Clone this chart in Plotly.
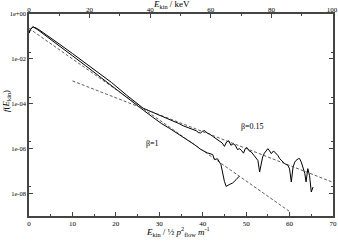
import numpy as np
import plotly.graph_objects as go

# ---- data (y values given as log10 f) ----
beta1_x = [0, 0.3, 0.7, 1.0, 2, 4, 7, 10, 13, 16, 19, 22.5, 24.5, 26.3, 28.5, 30.5,
           32.4, 34, 35.8, 38.1, 39.6, 41.1, 42.3, 42.7, 43.4, 44.2, 45.0, 45.4,
           46.1, 46.9, 47.7, 48.4]
beta1_logf = [-0.85, -0.70, -0.60, -0.58, -0.70, -0.98, -1.42, -1.86, -2.30, -2.75,
              -3.20, -3.75, -4.02, -4.28, -4.60, -4.88, -5.10, -5.30, -5.52, -5.82,
              -6.04, -6.19, -6.26, -6.49, -6.45, -6.71, -7.46, -7.68, -7.60, -7.53,
              -7.38, -7.23]

beta015_x = [0, 0.3, 0.7, 1.0, 2, 4, 7, 10, 13, 16, 19, 22.5, 24.5, 26.3, 27.5, 28.5,
             30, 31, 32.4, 33.5, 34.5, 35.5, 36.6, 37.5, 38.5, 39, 39.5, 40, 40.5, 41,
             41.6, 42.3, 43, 43.5, 44, 44.5, 45, 45.5, 46, 46.5, 47, 47.5, 48, 48.5,
             49, 49.4, 49.8, 50.2, 50.7, 51.2, 51.8, 52.3, 52.7, 53.1, 53.5, 53.8,
             54.2, 54.6, 55, 55.4, 55.8, 56.3, 56.9, 57.3, 57.7, 58.3, 58.9, 59.6,
             60, 60.4, 60.8, 61.2, 61.5, 62, 62.3, 62.7, 63.1, 63.5, 63.8, 64.2,
             64.6, 65, 65.4]
beta015_logf = [-0.85, -0.70, -0.60, -0.58, -0.66, -0.92, -1.34, -1.76, -2.18, -2.60,
                -3.05, -3.62, -3.93, -4.20, -4.30, -4.38, -4.50, -4.60, -4.70, -4.80,
                -4.88, -4.98, -5.07, -5.12, -5.20, -5.28, -5.30, -5.22, -5.20, -5.30,
                -5.35, -5.45, -5.55, -5.60, -5.68, -5.75, -5.90, -5.70, -5.65, -5.85,
                -5.78, -5.85, -6.04, -6.00, -6.10, -6.20, -6.00, -5.95, -6.10, -6.15,
                -6.30, -6.40, -6.52, -7.04, -6.60, -6.37, -6.20, -6.07, -6.00, -6.10,
                -6.22, -6.10, -6.22, -6.30, -6.44, -6.55, -6.67, -6.74, -6.90, -7.48,
                -6.82, -6.60, -6.52, -6.45, -6.44, -6.60, -6.82, -7.10, -7.48, -6.89,
                -7.20, -7.93, -7.71]

fit1_x = [0, 60]
fit1_logf = [-0.64, -8.80]
fit015_x = [10, 70]
fit015_logf = [-2.98, -7.50]

bottom_ticks = [0, 10, 20, 30, 40, 50, 60, 70]
top_ticks = [0, 20, 40, 60, 80, 100]
y_tickvals = [1e0, 1e-2, 1e-4, 1e-6, 1e-8]
y_ticktext = ["1e+00", "1e-02", "1e-04", "1e-06", "1e-08"]
y_minor = [2e-2, 2e-4, 2e-6, 2e-8]

labels = [("β=1", 28.5, -5.75), ("β=0.15", 51.5, -5.0)]

FONT = "Liberation Serif"
AX = "#444444"

fig = go.Figure()
fig.add_trace(go.Scatter(x=beta1_x, y=np.power(10.0, beta1_logf), mode="lines",
                         line=dict(color="black", width=1), showlegend=False))
fig.add_trace(go.Scatter(x=beta015_x, y=np.power(10.0, beta015_logf), mode="lines",
                         line=dict(color="black", width=1), showlegend=False))
fig.add_trace(go.Scatter(x=fit1_x, y=np.power(10.0, fit1_logf), mode="lines",
                         line=dict(color="#333333", width=0.8, dash="3px,2px"), showlegend=False))
fig.add_trace(go.Scatter(x=fit015_x, y=np.power(10.0, fit015_logf), mode="lines",
                         line=dict(color="#333333", width=0.8, dash="3px,2px"), showlegend=False))
# invisible trace for top axis
fig.add_trace(go.Scatter(x=[0, 100], y=[1e-9, 1e-9], xaxis="x2", mode="lines",
                         line=dict(width=0, color="white"), hoverinfo="skip", showlegend=False))

for txt, lx, ly in labels:
    fig.add_annotation(x=lx, y=ly, xref="x", yref="y", text=txt, showarrow=False,
                       font=dict(family=FONT, size=8, color="black"))

# axis titles as annotations (paper coords)
fig.add_annotation(x=0.49, y=-0.078, xref="paper", yref="paper", yanchor="middle",
                   text="<i>E</i><sub>kin</sub> / ½ <i>p</i><sup>2</sup><sub>flow</sub> <i>m</i><sup>-1</sup>",
                   showarrow=False, font=dict(family=FONT, size=9, color="black"))
fig.add_annotation(x=0.47, y=1.045, xref="paper", yref="paper", yanchor="middle",
                   text="<i>E</i><sub>kin</sub> / keV",
                   showarrow=False, font=dict(family=FONT, size=9, color="black"))
fig.add_annotation(x=-0.072, y=0.57, xref="paper", yref="paper", textangle=-90,
                   xanchor="center", yanchor="middle",
                   text="<i>f</i>(<i>E</i><sub>kin</sub>)",
                   showarrow=False, font=dict(family=FONT, size=9, color="black"))

fig.update_layout(
    template="none",
    width=338, height=242,
    margin=dict(l=29, r=5, t=14, b=26, autoexpand=False),
    paper_bgcolor="white", plot_bgcolor="white",
    font=dict(family=FONT, size=7, color="black"),
    xaxis=dict(range=[0, 70], tickmode="array", tickvals=bottom_ticks,
               ticks="inside", ticklen=4, tickwidth=1, tickcolor=AX,
               showline=True, linecolor=AX, linewidth=1.5, mirror=True,
               showgrid=False, zeroline=False, automargin=False,
               minor=dict(tickmode="array", tickvals=[5, 15, 25, 35, 45, 55, 65],
                          ticks="inside", ticklen=2, tickcolor=AX, showgrid=False),
               tickfont=dict(family=FONT, size=7, color="black")),
    xaxis2=dict(range=[0, 100.3], overlaying="x", side="top", anchor="y",
                tickmode="array", tickvals=top_ticks,
                ticks="inside", ticklen=4, tickwidth=1, tickcolor=AX,
                showline=False, showgrid=False, zeroline=False, automargin=False,
                minor=dict(tickmode="array", tickvals=[10, 30, 50, 70, 90],
                           ticks="inside", ticklen=2, tickcolor=AX, showgrid=False),
                tickfont=dict(family=FONT, size=7, color="black")),
    yaxis=dict(type="log", range=[-9, 0], tickmode="array", tickvals=y_tickvals,
               ticktext=y_ticktext, ticks="inside", ticklen=4, tickwidth=1,
               tickcolor=AX, showline=True, linecolor=AX, linewidth=1.5,
               mirror="ticks", showgrid=False, zeroline=False, automargin=False,
               minor=dict(tickmode="array", tickvals=y_minor, ticks="inside",
                          ticklen=2, tickcolor=AX, showgrid=False),
               tickfont=dict(family=FONT, size=6.5, color="black")),
)

fig.write_html("out.html", config={"displayModeBar": False},
               post_script="document.body.style.margin='0';document.body.style.overflow='hidden';")
